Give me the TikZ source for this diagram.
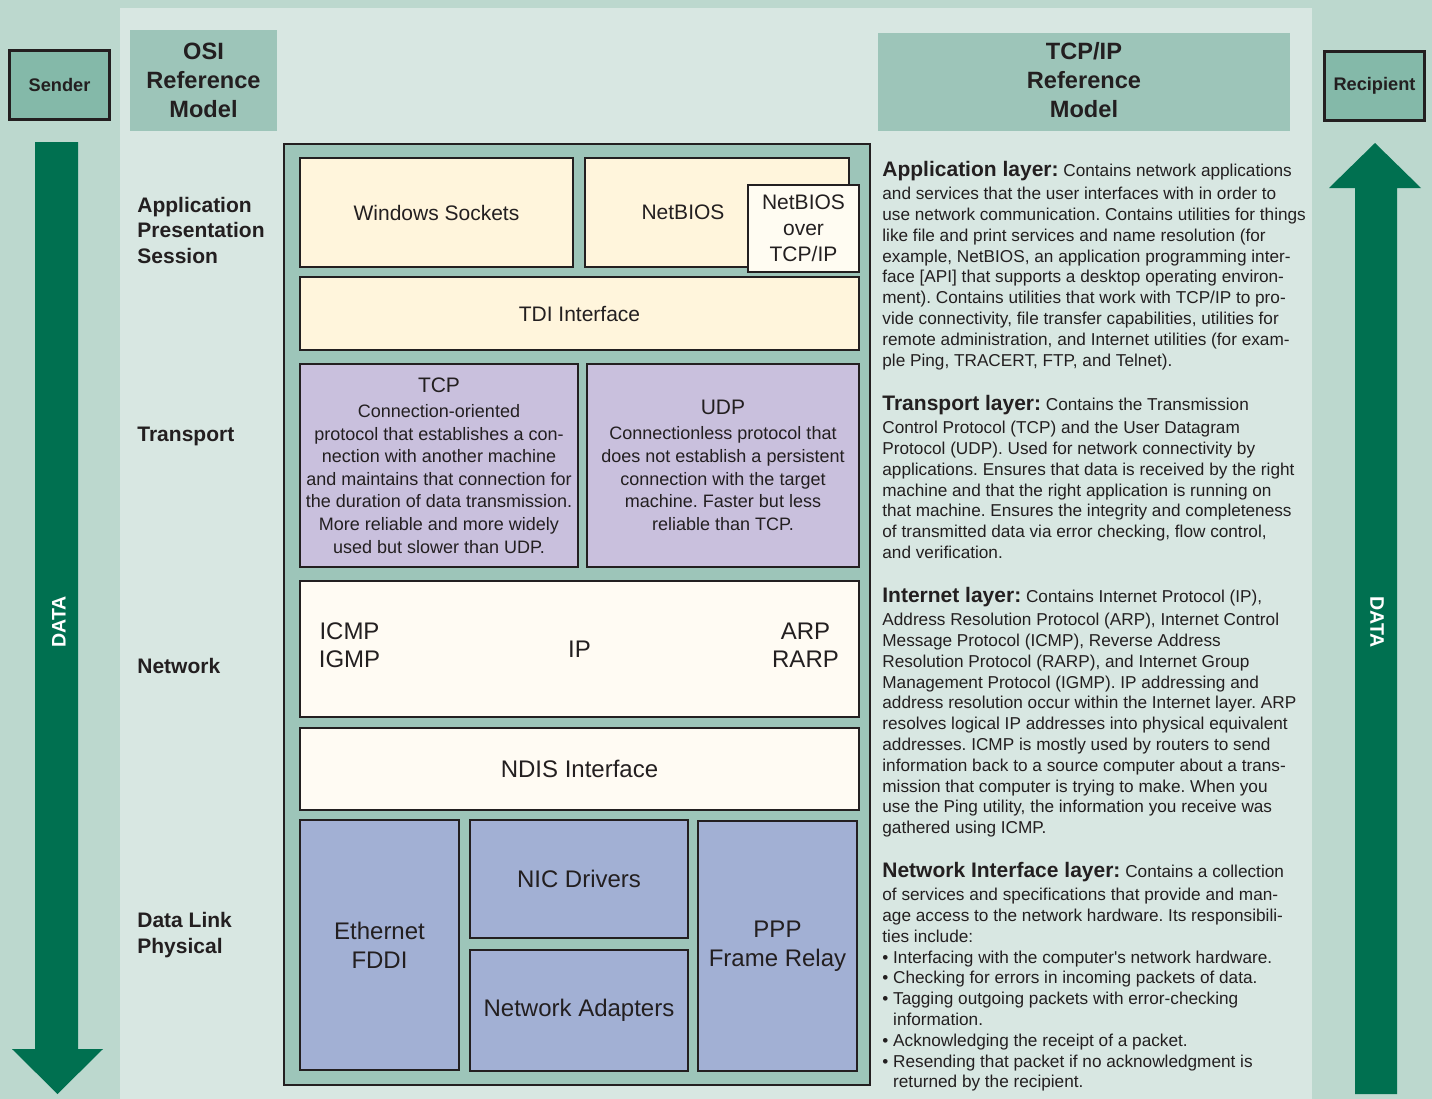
\documentclass[tikz,border=0pt]{standalone}
\usepackage{fontspec}
\setmainfont{Liberation Sans}
\usetikzlibrary{positioning}
\frenchspacing

\definecolor{outerbg}{HTML}{BCD8CE}
\definecolor{innerbg}{HTML}{D8E7E2}
\definecolor{headfill}{HTML}{9DC5B9}
\definecolor{endfill}{HTML}{84B9A9}
\definecolor{datagreen}{HTML}{007050}
\definecolor{appcream}{HTML}{FFF5DC}
\definecolor{overcream}{HTML}{FFFCF2}
\definecolor{netcream}{HTML}{FFFBF3}
\definecolor{translav}{HTML}{C9C0DD}
\definecolor{linkblue}{HTML}{A2B0D4}
\definecolor{ink}{HTML}{231F20}

\newcommand{\layerhead}[1]{{\fontsize{10.5}{10.4}\selectfont\bfseries #1}}

\tikzstyle{endpoint} = [
    rectangle,
    draw=ink,
    line width=1.5pt,
    fill=endfill,
    text=ink,
    font=\fontsize{9.1}{11}\selectfont\bfseries,
    minimum width=50pt,
    minimum height=34.5pt
]
\tikzstyle{heading} = [
    rectangle,
    fill=headfill,
    inner sep=0pt,
    align=center,
    text=ink,
    font=\fontsize{11.8}{14.5}\selectfont\bfseries
]
\tikzstyle{layerbox} = [
    rectangle,
    draw=ink,
    line width=0.75pt,
    inner sep=0pt,
    align=center,
    text=ink
]
\tikzstyle{appbox} = [layerbox, fill=appcream, font=\fontsize{10.5}{13}\selectfont]
\tikzstyle{transbox} = [layerbox, fill=translav, font=\fontsize{9}{11.3}\selectfont]
\tikzstyle{netbox} = [layerbox, fill=netcream, font=\fontsize{12}{14.5}\selectfont]
\tikzstyle{linkbox} = [layerbox, fill=linkblue, font=\fontsize{12}{14.5}\selectfont]
\tikzstyle{boxtext} = [inner sep=0pt, align=center, text=ink, font=\fontsize{12}{14}\selectfont]
\tikzstyle{osilabel} = [
    anchor=west,
    inner sep=0pt,
    align=left,
    text=ink,
    font=\fontsize{10.5}{12.75}\selectfont\bfseries
]
\tikzstyle{desc} = [
    anchor=north west,
    inner sep=0pt,
    align=left,
    text=ink,
    font=\fontsize{8.6}{10.4}\selectfont
]
\tikzstyle{datalabel} = [text=white, inner sep=0pt, font=\fontsize{9.8}{11}\selectfont\bfseries]

\begin{document}
\begin{tikzpicture}[x=0.5pt, y=-0.5pt]

\useasboundingbox (0,0) rectangle (1432,1099);
\fill [outerbg] (0,0) rectangle (1432,1099);
\fill [innerbg] (120,8) rectangle (1312,1099);

% sender and recipient
\node (sender) [endpoint] at (59.5,85) {Sender};
\node (recipient) [endpoint] at (1374.5,86) {Recipient};

\fill [datagreen] (35,142) -- (78,142) -- (78,1049) -- (103,1049)
    -- (57.5,1094) -- (12,1049) -- (35,1049) -- cycle;
\fill [datagreen] (1355,1094) -- (1397,1094) -- (1397,188) -- (1421,188)
    -- (1375,143) -- (1329,188) -- (1355,188) -- cycle;
\node (datadown) [datalabel, rotate=90] at (59,622) {DATA};
\node (dataup) [datalabel, rotate=-90] at (1377,622) {DATA};

% headings
\node (osi) [heading, minimum width=73.5pt, minimum height=50.5pt] at (203.5,80.5)
{OSI\\Reference\\Model};
\node (tcpip) [heading, minimum width=206pt, minimum height=49pt] at (1084,82)
{\raisebox{2pt}{}TCP/IP\\Reference\\Model\rule[-2pt]{0pt}{0pt}};

% OSI layers
\node (upper) [osilabel] at (137,230) {Application\\Presentation\\Session};
\node (transport) [osilabel] at (137,436) {Transport};
\node (network) [osilabel] at (137,666) {Network};
\node (lower) [osilabel] at (137,935) {Data Link\\Physical};

% the stack
\node (stack) [layerbox, fill=headfill, minimum width=293pt, minimum height=470.5pt] at (577,614.5) {};

\node (wsock) [appbox, minimum width=136.5pt, minimum height=54.5pt] at (436.5,212.5)
{Windows Sockets};
\node (netbios) [appbox, minimum width=132pt, minimum height=54.5pt] at (717,212.5)
{NetBIOS\hspace*{34pt}};
\node (nbt) [appbox, fill=overcream, minimum width=55.5pt, minimum height=43.5pt] at (803.5,228.5)
{NetBIOS\\over\\TCP/IP};
\node (tdi) [appbox, minimum width=279.5pt, minimum height=36.5pt] at (579.5,313.5)
{TDI Interface};

\node (tcp) [transbox, minimum width=139pt, minimum height=101.5pt] at (439,465.5)
{{\fontsize{10.5}{11.3}\selectfont TCP}\\[1.2pt]
Connection-oriented\\
protocol that establishes a con-\\
nection with another machine\\
and maintains that connection for\\
the duration of data transmission.\\
More reliable and more widely\\
used but slower than UDP.};
\node (udp) [transbox, minimum width=136pt, minimum height=101.5pt] at (723,465.5)
{{\fontsize{10.5}{11.3}\selectfont UDP}\\[1.2pt]
Connectionless protocol that\\
does not establish a persistent\\
connection with the target\\
machine. Faster but less\\
reliable than TCP.};

\node (ip) [netbox, minimum width=279.5pt, minimum height=68pt] at (579.5,649) {IP};
\node (icmp) [boxtext] at (349.5,645) {ICMP\\IGMP};
\node (arp) [boxtext] at (805.5,645) {ARP\\RARP};
\node (ndis) [netbox, minimum width=279.5pt, minimum height=41pt] at (579.5,769)
{NDIS Interface};

\node (ether) [linkbox, minimum width=79.5pt, minimum height=125pt] at (379.5,945)
{Ethernet\\FDDI};
\node (nicdrv) [linkbox, minimum width=109pt, minimum height=59pt] at (579,879)
{NIC Drivers};
\node (adapters) [linkbox, minimum width=109pt, minimum height=60.5pt] at (579,1010.5)
{Network Adapters};
\node (ppp) [linkbox, minimum width=79.5pt, minimum height=125pt] at (777.5,946)
{PPP\\Frame Relay};

% TCP/IP layer descriptions
\node (appdesc) [desc] at (882,161) {\layerhead{Application layer:} Contains network applications\\[1.1pt]
and services that the user interfaces with in order to\\
use network communication. Contains utilities for things\\
like file and print services and name resolution (for\\
example, NetBIOS, an application programming inter-\\
face [API] that supports a desktop operating environ-\\
ment). Contains utilities that work with TCP/IP to pro-\\
vide connectivity, file transfer capabilities, utilities for\\
remote administration, and Internet utilities (for exam-\\
ple Ping, TRACERT, FTP, and Telnet).};

\node (transdesc) [desc] at (882,395) {\layerhead{Transport layer:} Contains the Transmission\\[1.1pt]
Control Protocol (TCP) and the User Datagram\\
Protocol (UDP). Used for network connectivity by\\
applications. Ensures that data is received by the right\\
machine and that the right application is running on\\
that machine. Ensures the integrity and completeness\\
of transmitted data via error checking, flow control,\\
and verification.};

\node (inetdesc) [desc] at (882,587) {\layerhead{Internet layer:} Contains Internet Protocol (IP),\\[1.1pt]
Address Resolution Protocol (ARP), Internet Control\\
Message Protocol (ICMP), Reverse Address\\
Resolution Protocol (RARP), and Internet Group\\
Management Protocol (IGMP). IP addressing and\\
address resolution occur within the Internet layer. ARP\\
resolves logical IP addresses into physical equivalent\\
addresses. ICMP is mostly used by routers to send\\
information back to a source computer about a trans-\\
mission that computer is trying to make. When you\\
use the Ping utility, the information you receive was\\
gathered using ICMP.};

\node (nifdesc) [desc] at (882,862) {\layerhead{Network Interface layer:} Contains a collection\\[1.1pt]
of services and specifications that provide and man-\\
age access to the network hardware. Its responsibili-\\
ties include:\\
\textbullet\ Interfacing with the computer\textquotesingle s network hardware.\\
\textbullet\ Checking for errors in incoming packets of data.\\
\textbullet\ Tagging outgoing packets with error-checking\\
\phantom{\textbullet\ }information.\\
\textbullet\ Acknowledging the receipt of a packet.\\
\textbullet\ Resending that packet if no acknowledgment is\\
\phantom{\textbullet\ }returned by the recipient.};

\end{tikzpicture}
\end{document}
